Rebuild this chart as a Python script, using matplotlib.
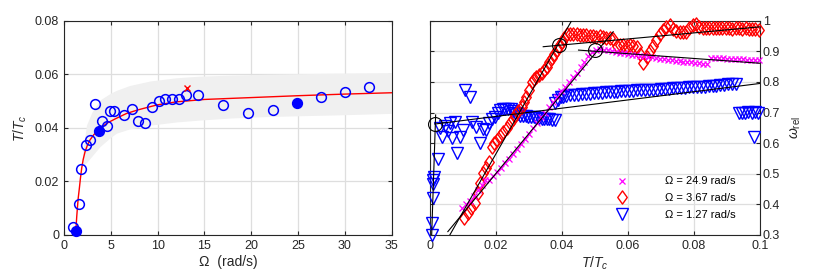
import numpy as np
import matplotlib
matplotlib.use('Agg')
from matplotlib import pyplot as plt
from matplotlib.path import Path

plt.rcParams['font.family'] = ['Liberation Sans', 'DejaVu Sans']
plt.rcParams['mathtext.fontset'] = 'custom'
plt.rcParams['mathtext.rm'] = 'Liberation Sans'
plt.rcParams['mathtext.it'] = 'Liberation Sans:italic'

# ---------------- left panel data ----------------
omega_open = [0.93, 1.6, 1.8, 2.35, 2.78, 3.28, 4.1, 4.56, 4.9, 5.34, 6.44, 7.26,
              7.94, 8.69, 9.43, 10.1, 10.8, 11.5, 12.25, 13.0, 14.3, 17.0, 19.7,
              22.3, 27.45, 30.05, 32.6]
ttc_open = [0.0031, 0.0116, 0.0246, 0.0337, 0.0355, 0.0488, 0.0427, 0.0407, 0.0463,
            0.0463, 0.0448, 0.047, 0.0424, 0.0417, 0.0478, 0.0501, 0.0506, 0.0506,
            0.0509, 0.0521, 0.0524, 0.0485, 0.0455, 0.0467, 0.0516, 0.0535, 0.0552]
omega_full = [1.32, 3.74, 24.9]
ttc_full = [0.0015, 0.0387, 0.0494]
omega_cross = [13.1]
ttc_cross = [0.0549]

fit_omega = [1.25, 1.3, 1.36, 1.43, 1.52, 1.64, 1.76, 1.89, 2.05, 2.25, 2.5, 2.78,
             3.2, 3.68, 4.57, 5.5, 6.7, 8.0, 9.2, 10.0, 12.0, 15.0, 20.0, 25.0, 30.0, 35.0]
fit_ttc = [0.0, 0.0035, 0.0068, 0.0100, 0.0138, 0.0174, 0.0213, 0.0249, 0.0282, 0.0311,
           0.0335, 0.0355, 0.0375, 0.0392, 0.0417, 0.0434, 0.0454, 0.0468, 0.0479,
           0.0486, 0.0497, 0.0506, 0.0513, 0.0520, 0.0526, 0.0531]

band_omega = [2.0, 2.4, 3.0, 3.84, 5.0, 5.6, 7.0, 9.2, 12.0, 14.5, 18.0, 21.6, 25.0, 28.8, 32.0, 35.0]
band_upper = [0.031, 0.041, 0.046, 0.0504, 0.053, 0.054, 0.0558, 0.0575, 0.0587, 0.0593,
              0.0597, 0.0600, 0.0602, 0.0604, 0.0605, 0.0606]
band_lower = [0.026, 0.027, 0.0295, 0.033, 0.0365, 0.038, 0.0396, 0.041, 0.0422, 0.0429,
              0.0437, 0.0442, 0.0445, 0.0448, 0.0451, 0.0454]

# ---------------- right panel data ----------------
blue_x = [0.0005, 0.0006, 0.0008, 0.0009, 0.0010, 0.0011, 0.0025,
          0.0030, 0.0035, 0.0045, 0.0055, 0.0060, 0.0066, 0.0076, 0.0081, 0.0090,
          0.0100, 0.0106, 0.0120, 0.0128, 0.0140, 0.0152, 0.0160, 0.0170, 0.0178,
          0.0187, 0.0197, 0.0205, 0.0212, 0.0220, 0.0228, 0.0236, 0.0244, 0.0252,
          0.0258, 0.0266, 0.0274, 0.0282, 0.0290, 0.0298, 0.0306, 0.0314, 0.0322,
          0.0330, 0.0338, 0.0346, 0.0354, 0.0362, 0.0370, 0.0378,
          0.0380, 0.0388, 0.0396, 0.0404,
          0.0412, 0.0424, 0.0436, 0.0448, 0.0460, 0.0472, 0.0484, 0.0496, 0.0508,
          0.0520, 0.0532, 0.0544, 0.0556, 0.0568, 0.0580, 0.0592, 0.0604, 0.0616,
          0.0628, 0.0640, 0.0652, 0.0664, 0.0676, 0.0688, 0.0700, 0.0712, 0.0724,
          0.0736, 0.0748, 0.0760, 0.0772, 0.0784, 0.0796, 0.0808, 0.0820, 0.0832,
          0.0844, 0.0856, 0.0868, 0.0880, 0.0892, 0.0904, 0.0916, 0.0928,
          0.0935, 0.0945, 0.0955, 0.0965, 0.0975, 0.0985, 0.0995, 0.0983]
blue_y = [0.300, 0.340, 0.420, 0.468, 0.478, 0.488, 0.548,
          0.648, 0.621, 0.655, 0.640, 0.665, 0.616, 0.668, 0.567, 0.621,
          0.643, 0.774, 0.752, 0.668, 0.654, 0.600, 0.645, 0.643, 0.665,
          0.680, 0.686, 0.697, 0.708, 0.712, 0.710, 0.712, 0.710, 0.706,
          0.700, 0.694, 0.690, 0.688, 0.688, 0.686, 0.684, 0.684, 0.682,
          0.682, 0.680, 0.680, 0.678, 0.678, 0.676, 0.676,
          0.730, 0.742, 0.750, 0.752,
          0.754, 0.756, 0.757, 0.758, 0.760, 0.761, 0.762, 0.763, 0.764,
          0.765, 0.766, 0.766, 0.767, 0.768, 0.769, 0.769, 0.770, 0.771,
          0.772, 0.772, 0.773, 0.774, 0.775, 0.775, 0.776, 0.777, 0.778,
          0.779, 0.779, 0.780, 0.781, 0.782, 0.782, 0.783, 0.784, 0.785,
          0.786, 0.787, 0.788, 0.789, 0.790, 0.792, 0.793, 0.794,
          0.700, 0.698, 0.700, 0.702, 0.700, 0.702, 0.700, 0.621]

red_x = [0.0104, 0.0115, 0.0125, 0.0136, 0.0146, 0.0152, 0.0160, 0.0170, 0.0180,
         0.0187, 0.0195, 0.0202, 0.0212, 0.0222, 0.0232, 0.0242, 0.0250, 0.0258,
         0.0268, 0.0278, 0.0284, 0.0290, 0.0299, 0.0308, 0.0314, 0.0320, 0.0329,
         0.0338, 0.0346, 0.0354, 0.0362, 0.0370, 0.0377, 0.0384, 0.0392, 0.0400,
         0.0407, 0.0414,
         0.0424, 0.0434, 0.0444, 0.0454, 0.0464, 0.0474, 0.0484, 0.0494, 0.0504,
         0.0514, 0.0524, 0.0534, 0.0544, 0.0554,
         0.0566, 0.0576, 0.0586, 0.0596, 0.0606, 0.0616, 0.0626, 0.0636, 0.0646,
         0.0656, 0.0666, 0.0676, 0.0686, 0.0696, 0.0706, 0.0716, 0.0726,
         0.0736, 0.0746, 0.0756, 0.0766, 0.0776, 0.0786, 0.0796, 0.0806, 0.0816,
         0.0826, 0.0836, 0.0846, 0.0856, 0.0866, 0.0876, 0.0886, 0.0896, 0.0906,
         0.0916, 0.0926, 0.0936, 0.0946, 0.0956, 0.0966, 0.0976, 0.0986, 0.0996]
red_y = [0.354, 0.372, 0.388, 0.403, 0.436, 0.470, 0.501, 0.518, 0.540,
         0.589, 0.600, 0.610, 0.623, 0.637, 0.650, 0.665, 0.678, 0.692,
         0.705, 0.719, 0.735, 0.752, 0.775, 0.800, 0.810, 0.817, 0.822,
         0.828, 0.838, 0.850, 0.864, 0.877, 0.890, 0.904, 0.917, 0.930,
         0.945, 0.958,
         0.958, 0.956, 0.955, 0.953, 0.952, 0.952, 0.950, 0.950, 0.948,
         0.950, 0.948, 0.945, 0.942, 0.940,
         0.918, 0.922, 0.920, 0.918, 0.920, 0.918, 0.915, 0.890, 0.862,
         0.880, 0.902, 0.918, 0.936, 0.955, 0.970, 0.980, 0.986,
         0.972, 0.966, 0.964, 0.963, 0.964, 0.975, 0.985, 0.990, 0.980,
         0.977, 0.976, 0.976, 0.975, 0.976, 0.975, 0.975, 0.976, 0.975,
         0.974, 0.975, 0.975, 0.974, 0.975, 0.974, 0.973, 0.972, 0.970]

mag_x = [0.0096, 0.0108, 0.0120, 0.0132, 0.0144, 0.0156, 0.0168, 0.0180, 0.0192,
         0.0204, 0.0216, 0.0228, 0.0240, 0.0252, 0.0264, 0.0276, 0.0288, 0.0300,
         0.0312, 0.0324, 0.0336, 0.0348, 0.0360, 0.0372, 0.0384, 0.0396, 0.0408,
         0.0420, 0.0432, 0.0444, 0.0456, 0.0468, 0.0480, 0.0492, 0.0504,
         0.0516, 0.0528, 0.0540, 0.0552, 0.0564, 0.0576, 0.0588, 0.0600, 0.0612,
         0.0624, 0.0636, 0.0648, 0.0660, 0.0672, 0.0684, 0.0696, 0.0708, 0.0720,
         0.0732, 0.0744, 0.0756, 0.0768, 0.0780, 0.0792, 0.0804, 0.0816, 0.0828,
         0.0840, 0.0852, 0.0864, 0.0876, 0.0888, 0.0900, 0.0912, 0.0924, 0.0936,
         0.0948, 0.0960, 0.0972, 0.0984, 0.0996]
mag_y = [0.387, 0.400, 0.412, 0.428, 0.446, 0.462, 0.478, 0.480, 0.492,
         0.505, 0.520, 0.534, 0.548, 0.565, 0.580, 0.596, 0.612, 0.630,
         0.648, 0.665, 0.684, 0.700, 0.718, 0.735, 0.752, 0.770, 0.785,
         0.800, 0.815, 0.830, 0.848, 0.866, 0.884, 0.898, 0.905,
         0.908, 0.905, 0.903, 0.900, 0.898, 0.896, 0.894, 0.892, 0.889,
         0.887, 0.885, 0.884, 0.882, 0.880, 0.878, 0.876, 0.874, 0.872,
         0.870, 0.869, 0.868, 0.866, 0.865, 0.864, 0.862, 0.861, 0.859,
         0.857, 0.878, 0.878, 0.878, 0.877, 0.876, 0.876, 0.875, 0.874,
         0.874, 0.873, 0.873, 0.872, 0.872]

# black fit lines (start/end points)
fit_lines = [
    ([0.0060, 0.0429], [0.300, 1.000]),   # red rise
    ([0.0054, 0.0555], [0.311, 0.964]),   # magenta rise
    ([0.0343, 0.1000], [0.915, 0.980]),   # red plateau
    ([0.0450, 0.1000], [0.904, 0.861]),   # magenta plateau
    ([0.0015, 0.1000], [0.6625, 0.795]),  # blue plateau
    ([0.0005, 0.0017], [0.300, 0.692]),   # blue rise
]
knee_x = [0.0015, 0.0390, 0.0500]
knee_y = [0.663, 0.920, 0.905]

legend_labels = ['\u03a9 = 24.9 rad/s', '\u03a9 = 3.67 rad/s', '\u03a9 = 1.27 rad/s']

axcol = '#262626'
gridcol = '#dedede'

# tall diamond like the MATLAB one
diamond = Path([(0, 1), (0.72, 0), (0, -1), (-0.72, 0), (0, 1)],
               [Path.MOVETO, Path.LINETO, Path.LINETO, Path.LINETO, Path.CLOSEPOLY])

fig = plt.figure(figsize=(8.3, 2.76), dpi=100)
ax1 = fig.add_axes([0.0771, 0.1486, 0.3948, 0.7764])
ax2 = fig.add_axes([0.5181, 0.1486, 0.3976, 0.7764])

for ax in (ax1, ax2):
    ax.set_axisbelow(True)
    ax.grid(True, color=gridcol, linewidth=0.9)
    for sp in ax.spines.values():
        sp.set_color(axcol)
        sp.set_linewidth(0.8)
    ax.tick_params(direction='in', length=3, width=0.8, colors=axcol,
                   labelsize=9, labelcolor='#262626',
                   top=True, right=True, bottom=True, left=True)

# left panel
ax1.fill_between(band_omega, band_lower, band_upper, color='#f0f0f0', linewidth=0, zorder=1)
ax1.plot(fit_omega, fit_ttc, color='red', linewidth=1.0, zorder=3)
ax1.plot(omega_open, ttc_open, 'o', mfc='none', mec='blue', ms=7, mew=1.1, zorder=4, clip_on=False)
ax1.plot(omega_full, ttc_full, 'o', mfc='blue', mec='blue', ms=7, mew=1.1, zorder=4, clip_on=False)
ax1.plot(omega_cross, ttc_cross, 'x', color='red', ms=4.5, mew=1.0, zorder=4)
ax1.set_xlim(0, 35)
ax1.set_ylim(0, 0.08)
ax1.set_xticks([0, 5, 10, 15, 20, 25, 30, 35])
ax1.set_yticks([0, 0.02, 0.04, 0.06, 0.08])
ax1.set_yticklabels(['0', '0.02', '0.04', '0.06', '0.08'])
ax1.set_xlabel('\u03a9  (rad/s)', fontsize=10, color='#262626', labelpad=2)
ax1.set_ylabel(r'$T/T_c$', fontsize=10, color='#262626', labelpad=4)

# right panel
hb, = ax2.plot(blue_x, blue_y, 'v', mfc='none', mec='blue', ms=8.5, mew=1.0, zorder=3, clip_on=False)
hr, = ax2.plot(red_x, red_y, marker=diamond, ls='none', mfc='none', mec='red', ms=9.5, mew=1.0,
               zorder=3, clip_on=False)
hm, = ax2.plot(mag_x, mag_y, 'x', color='magenta', ms=4.5, mew=0.9, zorder=3, clip_on=False)
for lx, ly in fit_lines:
    ax2.plot(lx, ly, color='black', linewidth=0.8, zorder=5)
ax2.plot(knee_x, knee_y, 'o', mfc='none', mec='black', ms=10, mew=0.8, zorder=6, clip_on=False)

ax2.set_xlim(0, 0.1)
ax2.set_ylim(0.3, 1.0)
ax2.set_xticks([0, 0.02, 0.04, 0.06, 0.08, 0.1])
ax2.set_xticklabels(['0', '0.02', '0.04', '0.06', '0.08', '0.1'])
ax2.set_yticks([0.3, 0.4, 0.5, 0.6, 0.7, 0.8, 0.9, 1.0])
ax2.set_yticklabels(['0.3', '0.4', '0.5', '0.6', '0.7', '0.8', '0.9', '1'])
ax2.yaxis.tick_right()
ax2.tick_params(axis='y', left=True, right=True, pad=2)
ax2.yaxis.set_label_position('right')
ax2.set_ylabel(r'$\omega_{\rm rel}$', fontsize=10, color='#262626', labelpad=6)
ax2.set_xlabel(r'$T/T_c$', fontsize=10, color='#262626', labelpad=2)

leg = ax2.legend([hm, hr, hb], legend_labels, loc='lower right', frameon=False,
                 fontsize=8, handletextpad=2.9, labelspacing=0.6,
                 bbox_to_anchor=(0.94, 0.05), borderaxespad=0)

fig.savefig('out.png', dpi=100)
